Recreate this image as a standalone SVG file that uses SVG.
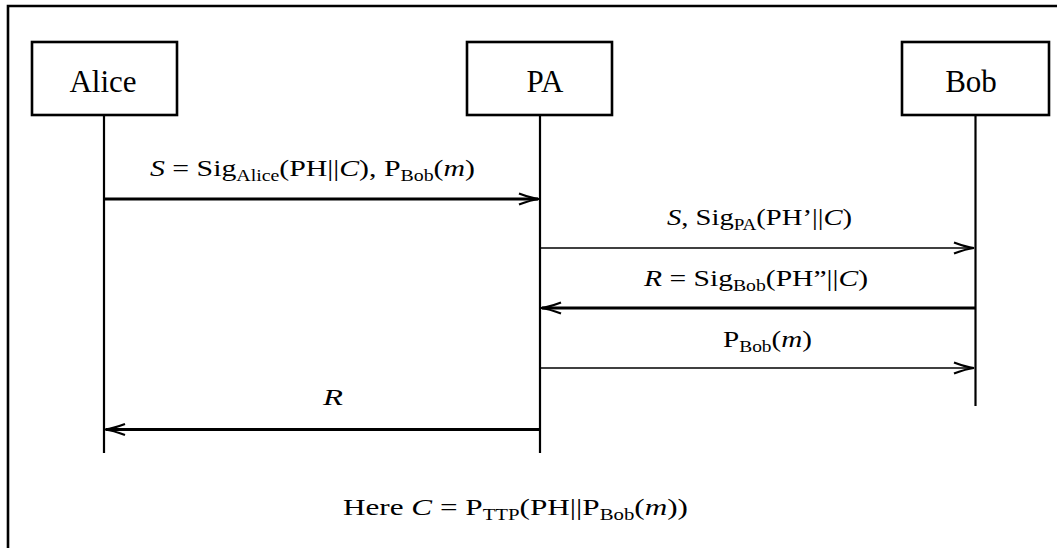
<svg xmlns="http://www.w3.org/2000/svg" width="1057" height="548" viewBox="0 0 1057 548">
<style>
.frame{fill:none;stroke:#000;stroke-width:2.6}
.box{fill:#fff;stroke:#000;stroke-width:2.6}
.life{stroke:#000;stroke-width:2.2;fill:none}
.thick{stroke:#000;stroke-width:2.8;fill:none}
.thin{stroke:#000;stroke-width:1.7;fill:none}
.head{stroke:#000;stroke-width:2.2;fill:none;stroke-linejoin:miter}
.name{font-family:"Liberation Serif","Times New Roman",serif;font-size:31px;fill:#000;text-anchor:middle}
.m{font-family:"Liberation Serif","Times New Roman",serif;font-size:24px;fill:#000}
.i{font-style:italic}
.sub{font-size:16px}
</style>
<rect width="1057" height="548" fill="#fff"/>
<path class="frame" d="M8,560 V6 H1070"/>
<g id="alice">
<rect class="box" x="32" y="42" width="145" height="73"/>
<text class="name" x="103" y="92">Alice</text>
<line class="life" x1="104" y1="115" x2="104" y2="453"/>
</g>
<g id="pa">
<rect class="box" x="467" y="42" width="145" height="73"/>
<text class="name" x="545" y="92">PA</text>
<line class="life" x1="540" y1="115" x2="540" y2="453"/>
</g>
<g id="bob">
<rect class="box" x="902" y="42" width="147" height="73"/>
<text class="name" x="971" y="92">Bob</text>
<line class="life" x1="975.5" y1="115" x2="975.5" y2="406"/>
</g>
<g id="connectors">
<line class="thick" x1="104" y1="199" x2="538" y2="199"/>
<path class="head" d="M519,193.5 Q531,198 539,199 Q531,200 519,204.5"/>
<line class="thin" x1="540" y1="248" x2="973" y2="248"/>
<path class="head" d="M954,242.5 Q966,247 974,248 Q966,249 954,253.5"/>
<line class="thick" x1="542" y1="308" x2="975.5" y2="308"/>
<path class="head" d="M561,302.5 Q549,307 541,308 Q549,309 561,313.5"/>
<line class="thin" x1="540" y1="368" x2="973" y2="368"/>
<path class="head" d="M954,362.5 Q966,367 974,368 Q966,369 954,373.5"/>
<line class="thick" x1="106" y1="429.5" x2="540" y2="429.5"/>
<path class="head" d="M125,424 Q113,428.5 105,429.5 Q113,430.5 125,435"/>
</g>
<g id="labels">
<text class="m" x="150" y="176" textLength="325" lengthAdjust="spacingAndGlyphs"><tspan class="i">S</tspan> = Sig<tspan class="sub" dy="5">Alice</tspan><tspan dy="-5">(PH||</tspan><tspan class="i">C</tspan>), P<tspan class="sub" dy="5">Bob</tspan><tspan dy="-5">(</tspan><tspan class="i">m</tspan>)</text>
<text class="m" x="667" y="225" textLength="185" lengthAdjust="spacingAndGlyphs"><tspan class="i">S</tspan>, Sig<tspan class="sub" dy="5">PA</tspan><tspan dy="-5">(PH’||</tspan><tspan class="i">C</tspan>)</text>
<text class="m" x="644" y="286" textLength="224" lengthAdjust="spacingAndGlyphs"><tspan class="i">R</tspan> = Sig<tspan class="sub" dy="5">Bob</tspan><tspan dy="-5">(PH”||</tspan><tspan class="i">C</tspan>)</text>
<text class="m" x="723" y="347" textLength="89" lengthAdjust="spacingAndGlyphs">P<tspan class="sub" dy="5">Bob</tspan><tspan dy="-5">(</tspan><tspan class="i">m</tspan>)</text>
<text class="m i" x="323" y="405" textLength="20" lengthAdjust="spacingAndGlyphs">R</text>
<text class="m" x="343" y="515" textLength="345" lengthAdjust="spacingAndGlyphs">Here <tspan class="i">C</tspan> = P<tspan class="sub" dy="5">TTP</tspan><tspan dy="-5">(PH||P</tspan><tspan class="sub" dy="5">Bob</tspan><tspan dy="-5">(</tspan><tspan class="i">m</tspan>))</text>
</g>
</svg>
